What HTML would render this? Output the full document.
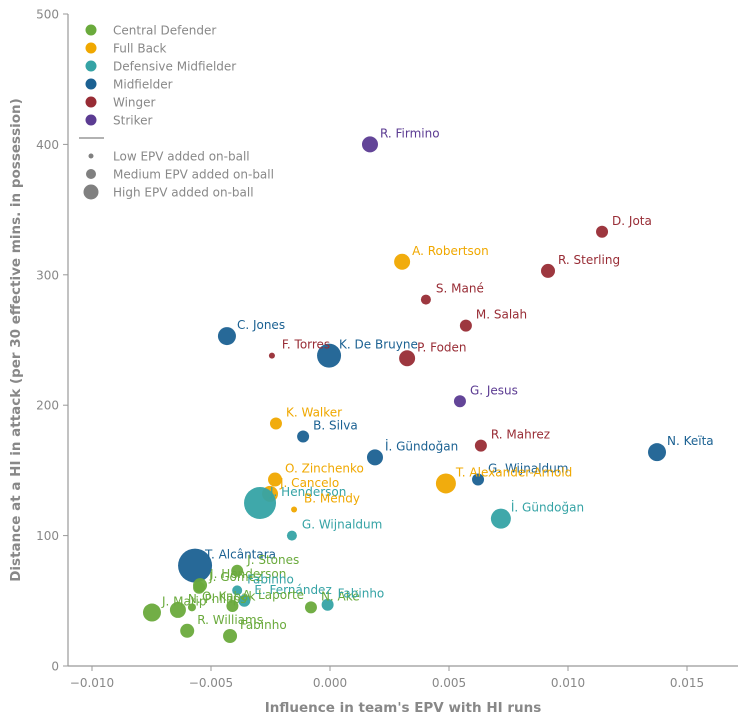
<!DOCTYPE html>
<html><head><meta charset="utf-8"><style>
body{margin:0;background:#fff;}
svg text{font-family:"DejaVu Sans","Liberation Sans",sans-serif;}
</style></head><body>
<svg id="chart" width="748" height="723" xmlns="http://www.w3.org/2000/svg">
<g id="axes"></g>
<g id="marks"></g>
<g id="labels"></g>
<g id="legend"></g>
<text x="403" y="712" text-anchor="middle" font-size="13.5" font-weight="bold" fill="#888">Influence in team's EPV with HI runs</text>
<text transform="translate(20,340) rotate(-90)" text-anchor="middle" font-size="13.5" font-weight="bold" fill="#888">Distance at a HI in attack (per 30 effective mins. in possession)</text>
</svg>
<script>
const names=["R. Firmino","D. Jota","A. Robertson","R. Sterling","S. Mané","M. Salah","C. Jones","F. Torres","K. De Bruyne","P. Foden","G. Jesus","K. Walker","B. Silva","R. Mahrez","N. Keïta","İ. Gündoğan","G. Wijnaldum","T. Alexander-Arnold","O. Zinchenko","J. Cancelo","J. Henderson","B. Mendy","İ. Gündoğan","G. Wijnaldum","T. Alcântara","J. Stones","J. Henderson","J. Gomez","Fabinho","E. Fernández","N. Aké","Fabinho","J. Matip","N. Phillips","O. Kabak","A. Laporte","R. Williams","Fabinho"];
const xs=[0.00168,0.01143,0.00303,0.00916,0.00403,0.00571,-0.00433,-0.00244,-0.00004,0.00324,0.00546,-0.00227,-0.00113,0.00634,0.01374,0.00189,0.00622,0.00487,-0.00231,-0.00252,-0.00294,-0.00151,0.00718,-0.0016,-0.00567,-0.0039,-0.00546,-0.0055,-0.0039,-0.0036,-0.0008,-0.0001,-0.00748,-0.00639,-0.0058,-0.0041,-0.0060,-0.0042];
const ys=[400,333,310,303,281,261,253,238,238,236,203,186,176,169,164,160,143,140,143,132,125,120,113,100,77,73,62,60,58,50,45,47,41,43,45,46,27,23];
const sizes=[8,6,8,7,5,6,9,3,12,8,6,6,6,6,9,8,6,10,7,8,16,3,10,5,17,6,7,6,5,6,6,6,9,8,4,6,7,7];
const roles=["Striker","Winger","Full Back","Winger","Winger","Winger","Midfielder","Winger","Midfielder","Winger","Striker","Full Back","Midfielder","Winger","Midfielder","Midfielder","Midfielder","Full Back","Full Back","Full Back","Defensive Midfielder","Full Back","Defensive Midfielder","Defensive Midfielder","Midfielder","Central Defender","Central Defender","Central Defender","Defensive Midfielder","Defensive Midfielder","Central Defender","Defensive Midfielder","Central Defender","Central Defender","Central Defender","Central Defender","Central Defender","Central Defender"];
const xTicks=[-0.010,-0.005,0,0.005,0.010,0.015];
const xTickLabels=["−0.010","−0.005","0.000","0.005","0.010","0.015"];
const yTicks=[0,100,200,300,400,500];
const roleNames=["Central Defender","Full Back","Defensive Midfielder","Midfielder","Winger","Striker"];
const colors={"Central Defender":"#6aaa3c","Full Back":"#f0a800","Defensive Midfielder":"#35a3a5","Midfielder":"#1b6192","Winger":"#982c35","Striker":"#5b3b92"};
const NS="http://www.w3.org/2000/svg";
function sx(v){return 330+v*23800;}
function sy(v){return 666-v*1.304;}
function mk(tag,attrs,parent){const e=document.createElementNS(NS,tag);for(const k in attrs)e.setAttribute(k,attrs[k]);parent.appendChild(e);return e;}
const ax=document.getElementById('axes');
let l=mk('line',{x1:68,y1:14,x2:68,y2:666,stroke:'#999','stroke-width':1.2},ax);


l=mk('line',{x1:68,y1:666,x2:738,y2:666,stroke:'#999','stroke-width':1.2},ax);


xTicks.forEach((t,i)=>{const x=sx(t);
 mk('line',{x1:x,y1:666,x2:x,y2:671,stroke:'#999'},ax);
 const tx=mk('text',{x:x,y:687,'text-anchor':'middle','font-size':12,fill:'#888'},ax);tx.textContent=xTickLabels[i];
 
 });
yTicks.forEach(t=>{const y=sy(t);
 mk('line',{x1:63,y1:y,x2:68,y2:y,stroke:'#999'},ax);
 const tx=mk('text',{x:59,y:y+4.5,'text-anchor':'end','font-size':12,fill:'#888'},ax);tx.textContent=t;
 
 });
const mg=document.getElementById('marks'),lg=document.getElementById('labels');
names.forEach((n,i)=>{const x=sx(xs[i]),y=sy(ys[i]),c=colors[roles[i]];
 const p=mk('circle',{cx:x,cy:y,r:sizes[i],fill:c,'fill-opacity':0.95},mg);
 
 
 const t=mk('text',{x:x+10,y:y-7,'font-size':12,fill:c},lg);t.textContent=n;
 
 });
const leg=document.getElementById('legend');
roleNames.forEach((r,i)=>{const y=30+i*18;
 const c=mk('circle',{cx:91,cy:y,r:5.5,fill:colors[r]},leg);
 
 
 const t=mk('text',{x:113,y:y+4.5,'font-size':12,fill:'#888'},leg);t.textContent=r;
 
 });
mk('line',{x1:79,y1:138,x2:104,y2:138,stroke:'#999','stroke-width':1.5},leg);
[["Low EPV added on-ball",2.5,156],["Medium EPV added on-ball",5,174],["High EPV added on-ball",7.5,192]].forEach(a=>{
 const c=mk('circle',{cx:91,cy:a[2],r:a[1],fill:'#808080'},leg);
 
 
 const t=mk('text',{x:113,y:a[2]+4.5,'font-size':12,fill:'#888'},leg);t.textContent=a[0];
 
 });
</script>
</body></html>
